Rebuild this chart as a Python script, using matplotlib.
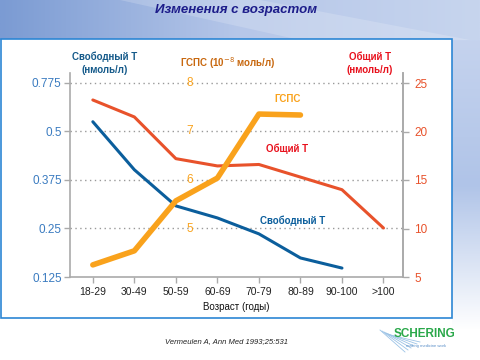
import numpy as np
import matplotlib
matplotlib.use('Agg')
import matplotlib.pyplot as plt
import matplotlib.transforms as mtransforms
from matplotlib.patches import Rectangle, Polygon

plt.rcParams['font.family'] = ['Liberation Sans', 'DejaVu Sans']

# данные
ages = ['18-29', '30-49', '50-59', '60-69', '70-79', '80-89', '90-100', '>100']
free_t = [0.554, 0.401, 0.308, 0.277, 0.236, 0.174, 0.148]          # нмоль/л
total_t = [23.25, 21.5, 17.2, 16.45, 16.6, 15.3, 14.0, 10.05]       # нмоль/л
shbg = [4.25, 4.54, 5.57, 6.04, 7.36, 7.34]                         # 10^-8 моль/л

left_ticks = [0.125, 0.25, 0.375, 0.5, 0.775]
right_ticks = [5, 10, 15, 20, 25]
mid_ticks = [5, 6, 7, 8]

c_free = '#0b5e9c'
c_total = '#e8522b'
c_shbg = '#f9a21c'

fig = plt.figure(figsize=(4.8, 3.6), dpi=100)

# фон слайда
bg = fig.add_axes([0, 0, 1, 1], zorder=-5)
bg.set_xlim(0, 480)
bg.set_ylim(360, 0)
bg.axis('off')
grad = np.linspace(0, 1, 256).reshape(1, -1)
bg.imshow(grad, extent=(0, 480, 40, 0), cmap=matplotlib.colors.LinearSegmentedColormap.from_list(
    'h', ['#7b9bd3', '#b6c7e9', '#c7d5ee']), aspect='auto')
bg.add_patch(Polygon([(120, 0), (260, 0), (470, 40), (300, 40)], color='white', alpha=0.18, lw=0))
vgrad = np.linspace(0, 1, 256).reshape(-1, 1)
bg.imshow(vgrad, extent=(452, 480, 330, 40), cmap=matplotlib.colors.LinearSegmentedColormap.from_list(
    'v', ['#c5d3ee', '#b0c4e8', '#ffffff']), aspect='auto')
bg.add_patch(Rectangle((1, 39), 451, 279, facecolor='white', edgecolor='#2c86d4', lw=1.2))
bg.text(236, 10, 'Изменения с возрастом', ha='center', va='center', fontsize=9.5,
        fontweight='bold', style='italic', color='#1c1c8a')

# подписи осей сверху
bg.text(105, 57, 'Свободный Т', ha='center', va='center', fontsize=7, fontweight='bold', color='#155a8a')
bg.text(105, 70, '(нмоль/л)', ha='center', va='center', fontsize=7, fontweight='bold', color='#155a8a')
bg.text(228, 63, 'ГСПС (10$^{-8}$ моль/л)', ha='center', va='center', fontsize=7, fontweight='bold', color='#c8680f')
bg.text(370, 57, 'Общий Т', ha='center', va='center', fontsize=7, fontweight='bold', color='#e8101c')
bg.text(370, 70, '(нмоль/л)', ha='center', va='center', fontsize=7, fontweight='bold', color='#e8101c')

# ссылка и логотип
bg.text(165, 342, 'Vermeulen A, Ann Med 1993;25:531', ha='left', va='center', fontsize=5.5,
        style='italic', color='#222222')
for k in range(6):
    bg.plot([380 + k * 2, 405 + k * 3], [330 + k, 352 - k * 2], color='#9cc3e6', lw=0.6)
bg.text(394, 334, 'SCHERING', ha='left', va='center', fontsize=8.5, fontweight='bold', color='#2aa84a')
bg.text(406, 346, 'making medicine work', ha='left', va='center', fontsize=3, color='#5a8fc8')

# основная ось (свободный тестостерон) — неравномерная шкала
pos_vals = left_ticks + [1.05]
pos_idx = list(range(len(pos_vals)))


def fwd(v):
    return np.interp(v, pos_vals, pos_idx)


def inv(p):
    return np.interp(p, pos_idx, pos_vals)


ax = fig.add_axes([70 / 480, 1 - 277 / 360, 333 / 480, 204 / 360])
ax.set_facecolor('none')
ax.set_yscale('function', functions=(fwd, inv))
ax.set_ylim(0.125, inv(4.2))
x = np.arange(len(ages))
ax.set_xlim(-0.55, 7.47)
ax.set_xticks(x)
ax.set_xticklabels(ages, fontsize=7.5, color='#222222')
ax.set_yticks(left_ticks)
ax.set_yticklabels(['0.125', '0.25', '0.375', '0.5', '0.775'], fontsize=8.5, color='#3a7bc0')
ax.yaxis.set_minor_locator(matplotlib.ticker.NullLocator())
ax.spines['top'].set_visible(False)
for s in ['left', 'bottom', 'right']:
    ax.spines[s].set_color('#aaaaaa')
    ax.spines[s].set_linewidth(1.2)
ax.tick_params(axis='both', colors='#aaaaaa', length=4, width=1)
ax.tick_params(axis='x', labelcolor='#222222', pad=3)
ax.tick_params(axis='y', labelcolor='#3a7bc0', pad=2)
for t in left_ticks[1:]:
    ax.axhline(t, color='#999999', ls=(0, (1, 2.5)), lw=1, zorder=0)
ax.set_xlabel('Возраст (годы)', fontsize=7, color='#111111', labelpad=4)

# общий тестостерон — правая ось
ax2 = ax.twinx()
ax2.set_ylim(5, 25 + 10 / 9.7)
ax2.set_yticks(right_ticks)
ax2.set_yticklabels([str(t) for t in right_ticks], fontsize=8.5)
ax2.tick_params(axis='y', colors='#aaaaaa', labelcolor=c_total, length=4, width=1, pad=4)
for s in ['top', 'left', 'bottom']:
    ax2.spines[s].set_visible(False)
ax2.spines['right'].set_color('#aaaaaa')
ax2.spines['right'].set_linewidth(1.2)

# ГСПС — скрытая ось
ax3 = ax.twinx()
ax3.set_ylim(4, 8 + 10 / 48.5)
ax3.axis('off')
tr = mtransforms.blended_transform_factory(ax3.transAxes, ax3.transData)
for t in mid_ticks:
    ax3.text(0.36, t, str(t), transform=tr, ha='center', va='center', fontsize=8.5, color=c_shbg)

ax3.plot(x[:len(shbg)], shbg, color=c_shbg, lw=4, solid_capstyle='round', zorder=3)
ax2.plot(x[:len(total_t)], total_t, color=c_total, lw=2.2, solid_capstyle='round')
ax.plot(x[:len(free_t)], free_t, color=c_free, lw=2.2, solid_capstyle='round')

# подписи линий
lab = fig.add_axes([0, 0, 1, 1], zorder=10)
lab.set_xlim(0, 480)
lab.set_ylim(360, 0)
lab.axis('off')
lab.text(288, 99, 'ГСПС', ha='center', va='center', fontsize=7, fontweight='bold', color=c_shbg,
         bbox=dict(facecolor='white', edgecolor='none', pad=3))
lab.text(287, 149, 'Общий Т', ha='center', va='center', fontsize=7, fontweight='bold', color='#e8101c',
         bbox=dict(facecolor='white', edgecolor='none', pad=2))
lab.text(293, 221, 'Свободный Т', ha='center', va='center', fontsize=7, fontweight='bold', color=c_free)

fig.savefig('out.png', dpi=100)
